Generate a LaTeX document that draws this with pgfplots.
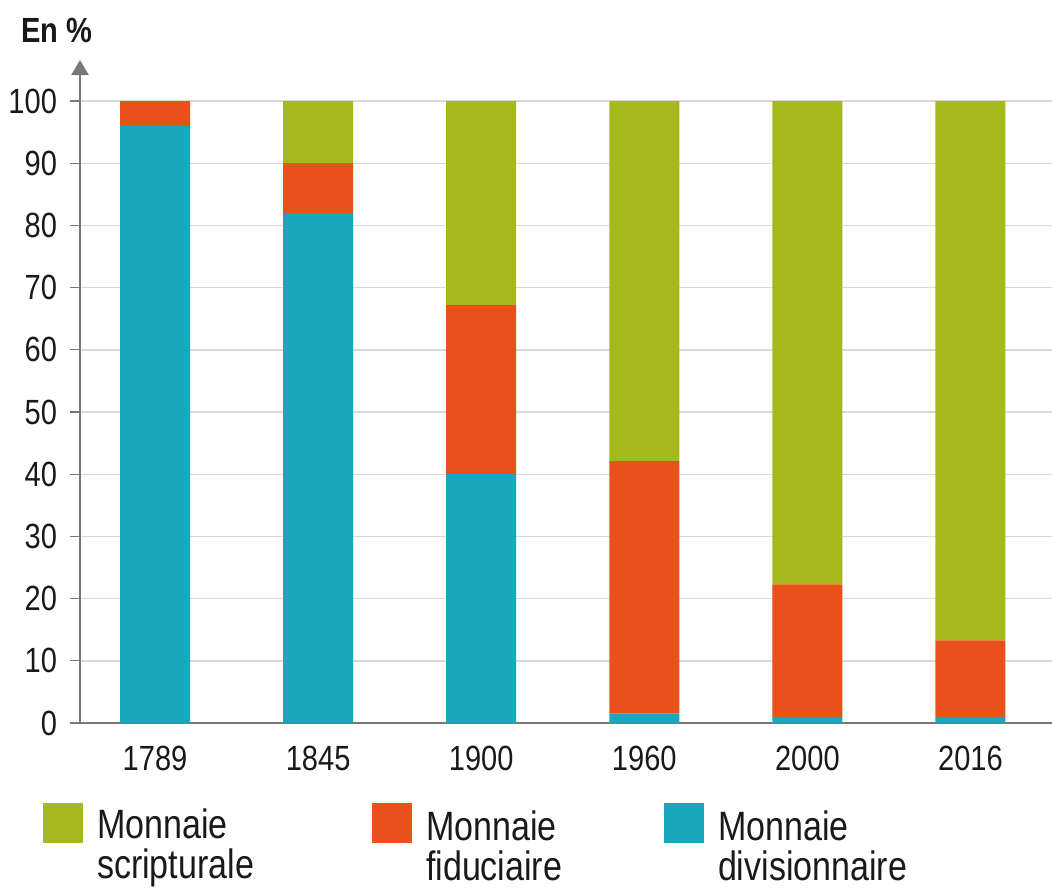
\documentclass[border=0pt]{standalone}
\usepackage{fontspec}
\setmainfont{Liberation Sans}[FakeStretch=0.83]
\usepackage{pgfplots}
\pgfplotsset{compat=1.18}
\usetikzlibrary{arrows.meta}
\definecolor{cscrip}{RGB}{166,185,28}
\definecolor{cfid}{RGB}{232,82,26}
\definecolor{cdiv}{RGB}{24,168,189}
\definecolor{axgray}{RGB}{120,120,120}

\begin{document}
\begin{tikzpicture}
\begin{axis}[
  scale only axis, width=486pt, height=331.5pt,
  xmin=-0.46, xmax=5.5, ymin=0, ymax=106.6,
  ybar stacked, bar width=35pt,
  xtick={0,...,5}, xticklabels={1789,1845,1900,1960,2000,2016},
  ytick={0,10,...,100},
  axis lines=left,
  x axis line style={-, draw=axgray, line width=1pt},
  y axis line style={draw=axgray, line width=1.1pt, -{Triangle[length=7.5pt,width=8.5pt]}},
  xtick style={draw=none},
  ytick style={draw=axgray, line width=0.6pt},
  tick align=outside, major tick length=5pt,
  ymajorgrids, grid style={gray!30, line width=0.7pt},
  /pgf/number format/assume math mode=true,
  tick label style={font=\fontsize{17.5}{20}\selectfont, text=black!90},
  yticklabel style={xshift=-3pt},
  xticklabel style={yshift=-3pt},
  reverse legend,
  legend columns=3,
  legend style={at={(-0.038,-0.121)}, anchor=north west, draw=none, fill=none,
    inner sep=0pt, outer sep=0pt,
    nodes={inner sep=0pt, font=\fontsize{20.5}{20}\selectfont, text=black!90},
    /tikz/every odd column/.style={column sep=7pt}},
  legend image code/.code={\fill[#1, draw=none] (0pt,-4pt) rectangle (20pt,16pt);},
]
\addplot[fill=cdiv, draw=none] coordinates {(0,96) (1,82) (2,40) (3,1.5) (4,1) (5,1)};
\addlegendentry{\parbox{90pt}{Monnaie\\divisionnaire}}
\addplot[fill=cfid, draw=none] coordinates {(0,4) (1,8) (2,27.2) (3,40.6) (4,21.3) (5,12.3)};
\addlegendentry{\parbox{119pt}{Monnaie\\fiduciaire}}
\addplot[fill=cscrip, draw=none] coordinates {(0,0) (1,10) (2,32.8) (3,57.9) (4,77.7) (5,86.7)};
\addlegendentry{\parbox{137.5pt}{Monnaie\\scripturale}}
\end{axis}
\node[font=\bfseries\fontsize{17.5}{20}\selectfont, text=black!90] at ([shift={(-11.5pt,15pt)}]current axis.north west) {En \%};
\pgfresetboundingbox
\path ([shift={(-40pt,-83.5pt)}]current axis.south west) rectangle ([shift={(0pt,30pt)}]current axis.north east);
\end{tikzpicture}
\end{document}
